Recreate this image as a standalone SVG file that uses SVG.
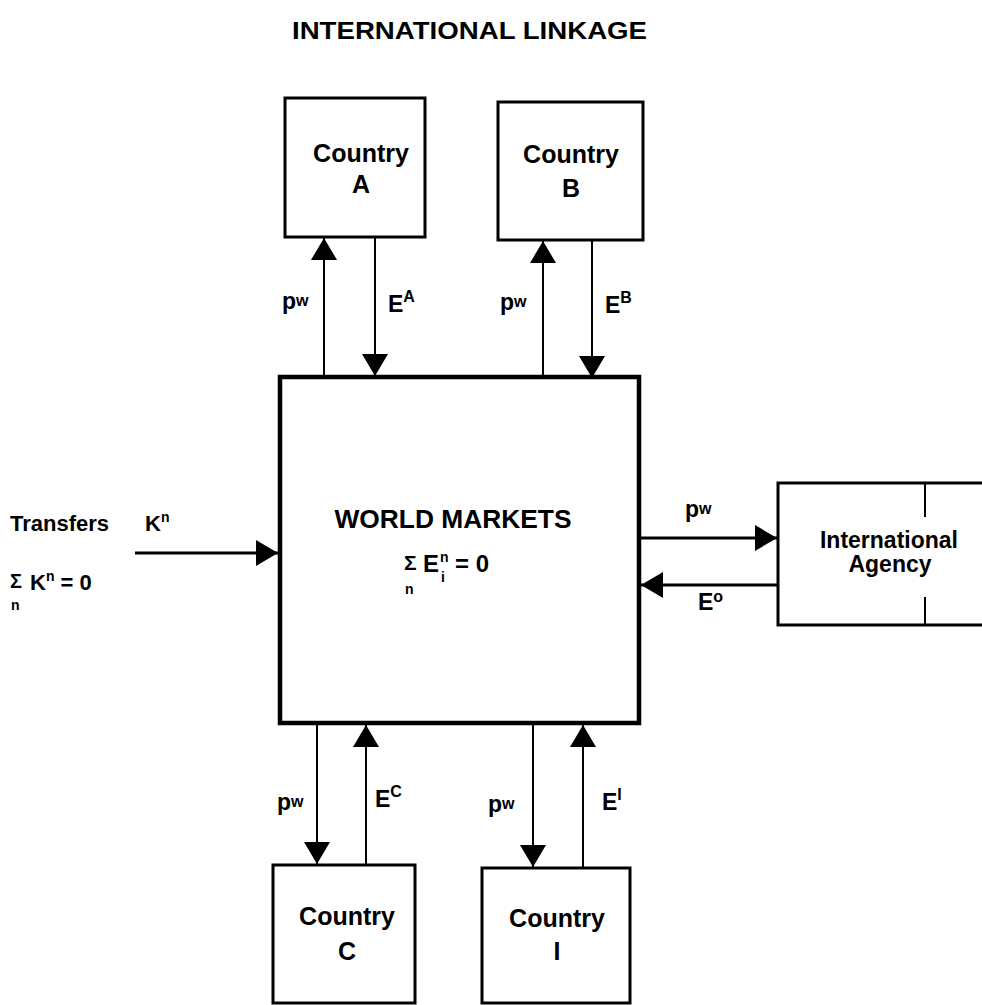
<svg xmlns="http://www.w3.org/2000/svg" width="982" height="1005" viewBox="0 0 982 1005">
<style>
.t{font-family:"Liberation Sans",Arial,sans-serif;font-weight:bold;fill:#000}
.box{fill:#fff;stroke:#000;stroke-width:3}
.wm{fill:#fff;stroke:#000;stroke-width:4.5}
.c{stroke:#000;stroke-width:2;fill:none}
.c2{stroke:#000;stroke-width:3;fill:none}
</style>
<defs>
<marker id="ah" viewBox="0 0 22 26" refX="22" refY="13" markerWidth="22" markerHeight="26" markerUnits="userSpaceOnUse" orient="auto">
<path d="M0,0 L22,13 L0,26 z" fill="#000"/>
</marker>
</defs>
<rect width="982" height="1005" fill="#fff"/>
<text class="t" x="292" y="39" font-size="24" textLength="355" lengthAdjust="spacingAndGlyphs">INTERNATIONAL LINKAGE</text>

<g id="countryA">
<rect class="box" x="285" y="98" width="140" height="139"/>
<text class="t" x="361" y="162" font-size="25" text-anchor="middle">Country</text>
<text class="t" x="361" y="193" font-size="25" text-anchor="middle">A</text>
</g>
<g id="countryB">
<rect class="box" x="498" y="102" width="145" height="138"/>
<text class="t" x="571" y="163" font-size="25" text-anchor="middle">Country</text>
<text class="t" x="571" y="197" font-size="25" text-anchor="middle">B</text>
</g>
<g id="worldMarkets">
<rect class="wm" x="280" y="377" width="359" height="346"/>
<text class="t" x="453" y="528" font-size="25" text-anchor="middle" textLength="237" lengthAdjust="spacingAndGlyphs">WORLD MARKETS</text>
<text class="t" x="404" y="570" font-size="21">Σ</text>
<text class="t" x="405" y="594" font-size="14">n</text>
<text class="t" x="423" y="572" font-size="24">E</text>
<text class="t" x="440" y="562" font-size="14">n</text>
<text class="t" x="441" y="582" font-size="14">i</text>
<text class="t" x="455" y="572" font-size="24">= 0</text>
</g>
<g id="agency">
<path class="box" d="M985,483 L778,483 L778,625 L985,625"/>
<line class="c" x1="925" y1="483" x2="925" y2="517"/>
<line class="c" x1="925" y1="597" x2="925" y2="625"/>
<text class="t" x="889" y="548" font-size="23" text-anchor="middle">International</text>
<text class="t" x="890" y="572" font-size="23" text-anchor="middle">Agency</text>
</g>
<g id="countryC">
<rect class="box" x="273" y="865" width="142" height="138"/>
<text class="t" x="347" y="925" font-size="25" text-anchor="middle">Country</text>
<text class="t" x="347" y="960" font-size="25" text-anchor="middle">C</text>
</g>
<g id="countryI">
<rect class="box" x="482" y="868" width="148" height="135"/>
<text class="t" x="557" y="927" font-size="25" text-anchor="middle">Country</text>
<text class="t" x="557" y="960" font-size="25" text-anchor="middle">I</text>
</g>
<g id="transfers">
<text class="t" x="10" y="531" font-size="22">Transfers</text>
<text class="t" x="145" y="531" font-size="22">K<tspan font-size="14" dy="-9">n</tspan></text>
<text class="t" x="10" y="588" font-size="20">Σ</text>
<text class="t" x="11" y="610" font-size="14">n</text>
<text class="t" x="30" y="590" font-size="22">K<tspan font-size="14" dy="-9">n</tspan><tspan dy="9"> = 0</tspan></text>
</g>

<g id="connectors">
<line class="c" x1="324" y1="376" x2="324" y2="238" marker-end="url(#ah)"/>
<line class="c" x1="375" y1="237" x2="375" y2="376" marker-end="url(#ah)"/>
<line class="c" x1="543" y1="378" x2="543" y2="241" marker-end="url(#ah)"/>
<line class="c" x1="592" y1="240" x2="592" y2="378" marker-end="url(#ah)"/>
<line class="c2" x1="135" y1="553" x2="278" y2="553" marker-end="url(#ah)"/>
<line class="c2" x1="641" y1="538" x2="777" y2="538" marker-end="url(#ah)"/>
<line class="c2" x1="778" y1="585" x2="641" y2="585" marker-end="url(#ah)"/>
<line class="c" x1="317" y1="725" x2="317" y2="864" marker-end="url(#ah)"/>
<line class="c" x1="366" y1="865" x2="366" y2="725" marker-end="url(#ah)"/>
<line class="c" x1="533" y1="725" x2="533" y2="867" marker-end="url(#ah)"/>
<line class="c" x1="583" y1="868" x2="583" y2="725" marker-end="url(#ah)"/>
</g>

<g id="labels">
<text class="t" x="282" y="309" font-size="23">p<tspan font-size="16" dy="-3">w</tspan></text>
<text class="t" x="388" y="312" font-size="23">E<tspan font-size="16" dy="-10">A</tspan></text>
<text class="t" x="500" y="310" font-size="23">p<tspan font-size="16" dy="-3">w</tspan></text>
<text class="t" x="605" y="313" font-size="23">E<tspan font-size="16" dy="-10">B</tspan></text>
<text class="t" x="685" y="517" font-size="23">p<tspan font-size="16" dy="-3">w</tspan></text>
<text class="t" x="698" y="610" font-size="23">E<tspan font-size="16" dy="-8">o</tspan></text>
<text class="t" x="277" y="810" font-size="23">p<tspan font-size="16" dy="-3">w</tspan></text>
<text class="t" x="375" y="807" font-size="23">E<tspan font-size="16" dy="-10">C</tspan></text>
<text class="t" x="488" y="812" font-size="23">p<tspan font-size="16" dy="-3">w</tspan></text>
<text class="t" x="602" y="810" font-size="23">E<tspan font-size="16" dy="-10">I</tspan></text>
</g>
</svg>
